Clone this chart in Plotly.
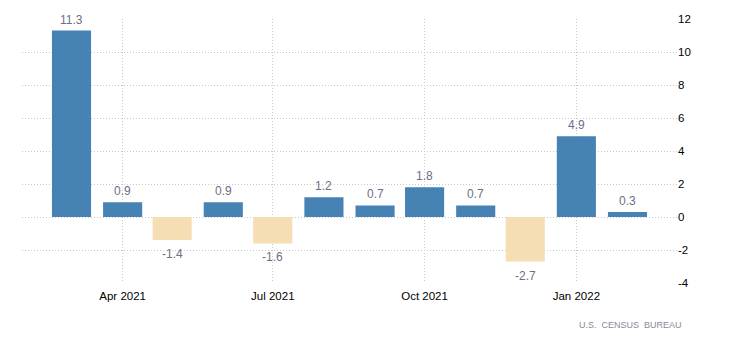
import plotly.graph_objects as go

# Monthly percent change
months = ["2021-03-01", "2021-04-01", "2021-05-01", "2021-06-01", "2021-07-01", "2021-08-01",
          "2021-09-01", "2021-10-01", "2021-11-01", "2021-12-01", "2022-01-01", "2022-02-01"]
values = [11.3, 0.9, -1.4, 0.9, -1.6, 1.2, 0.7, 1.8, 0.7, -2.7, 4.9, 0.3]
y_ticks = [-4, -2, 0, 2, 4, 6, 8, 10, 12]

POS = "#4682B4"
NEG = "#F5DEB3"
colors = [POS if v >= 0 else NEG for v in values]

DAY_MS = 86400000
fig = go.Figure(go.Bar(
    x=months, y=values,
    marker=dict(color=colors, line=dict(width=0)),
    width=[23.7 * DAY_MS] * len(values),
    hoverinfo="x+y",
))

for m, v in zip(months, values):
    fig.add_annotation(
        x=m, y=v, text=f"{v:.1f}", showarrow=False,
        yanchor="bottom" if v >= 0 else "top",
        yshift=2 if v >= 0 else -5,
        font=dict(family="Liberation Sans, Arial, sans-serif", size=12, color="#6e6e85"),
    )

fig.add_annotation(
    xref="paper", yref="paper", x=1.011, y=-0.158,
    xanchor="right", yanchor="middle", showarrow=False,
    text="U.S.  CENSUS  BUREAU",
    font=dict(family="Liberation Sans, Arial, sans-serif", size=9, color="#8a8a9a"),
)

grid = dict(showgrid=True, gridcolor="#c8c8c8", griddash="1px,2px", gridwidth=1)

fig.update_layout(
    width=730, height=349,
    margin=dict(l=22, r=53, t=19, b=66),
    paper_bgcolor="white", plot_bgcolor="white",
    showlegend=False,
    font=dict(family="Liberation Sans, Arial, sans-serif", size=11, color="#000000"),
    xaxis=dict(
        type="date",
        range=["2021-01-30", "2022-03-03"],
        tick0="2021-01-01", dtick="M3", tickformat="%b %Y",
        ticks="", showline=False, zeroline=False,
        ticklabelstandoff=4,
        tickfont=dict(size=11.5, color="#000000"),
        **grid,
    ),
    yaxis=dict(
        side="right", range=[-4, 12],
        tickvals=y_ticks, ticktext=[str(t) for t in y_ticks],
        ticks="", showline=False, zeroline=False,
        tickfont=dict(size=11.5, color="#000000"),
        **grid,
    ),
)

fig.write_html("out.html")
